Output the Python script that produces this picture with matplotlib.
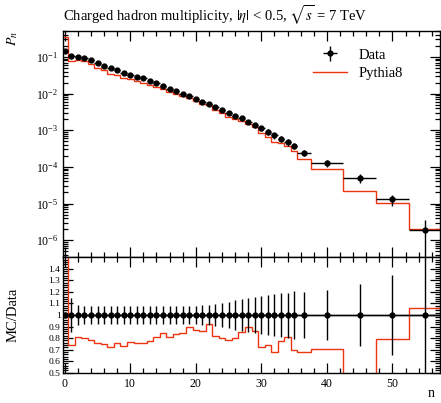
import matplotlib
matplotlib.use('Agg')
import matplotlib.pyplot as plt
from matplotlib.ticker import MultipleLocator, LogLocator, NullFormatter
import numpy as np

plt.rcParams['font.family'] = ['Liberation Serif', 'DejaVu Serif']
plt.rcParams['mathtext.fontset'] = 'stix'

# data points: multiplicity n, P_n, relative uncertainty, half bin width
n_data = [0, 1, 2, 3, 4, 5, 6, 7, 8, 9, 10, 11, 12, 13, 14, 15, 16, 17, 18, 19,
          20, 21, 22, 23, 24, 25, 26, 27, 28, 29, 30, 31, 32, 33, 34, 35,
          36.5, 40, 45, 50, 55]
pn_data = [0.142, 0.103, 0.101, 0.095, 0.080, 0.067, 0.058, 0.049, 0.043, 0.037,
           0.033, 0.029, 0.026, 0.022, 0.019, 0.0163, 0.0135, 0.0117, 0.0099, 0.0085,
           0.0072, 0.0060, 0.0052, 0.0043, 0.0036, 0.0030, 0.0025, 0.0021, 0.00168, 0.00140,
           0.00115, 0.00090, 0.00072, 0.00058, 0.00047, 0.00038,
           0.00024, 0.000125, 5.0e-5, 1.3e-5, 1.85e-6]
rel_err = [0.03, 0.15, 0.09, 0.075, 0.075, 0.075, 0.075, 0.075, 0.075, 0.075,
           0.075, 0.075, 0.075, 0.075, 0.075, 0.075, 0.075, 0.075, 0.075, 0.075,
           0.075, 0.086, 0.086, 0.095, 0.106, 0.115, 0.13, 0.135, 0.144, 0.158,
           0.164, 0.172, 0.178, 0.187, 0.195, 0.205,
           0.2, 0.22, 0.27, 0.35, 0.87]
half_width = [0.5] * 36 + [1.0, 2.5, 2.5, 2.5, 2.5]

# Pythia8 histogram
edges = [-0.5, 0.5, 1.5, 2.5, 3.5, 4.5, 5.5, 6.5, 7.5, 8.5, 9.5, 10.5, 11.5, 12.5,
         13.5, 14.5, 15.5, 16.5, 17.5, 18.5, 19.5, 20.5, 21.5, 22.5, 23.5, 24.5,
         25.5, 26.5, 27.5, 28.5, 29.5, 30.5, 31.5, 32.5, 33.5, 34.5, 35.5,
         37.5, 42.5, 47.5, 52.5, 57.5]
pn_mc = [0.34, 0.0763, 0.0821, 0.076, 0.0628, 0.0507, 0.0433, 0.0352, 0.0327, 0.0271,
         0.0252, 0.0219, 0.0198, 0.0171, 0.01535, 0.01372, 0.01098, 0.00975, 0.00834, 0.00765,
         0.00628, 0.00515, 0.00479, 0.00351, 0.00288, 0.002355, 0.0020, 0.001785, 0.001512, 0.001211,
         0.000831, 0.000667, 0.000492, 0.000449, 0.000382, 0.000266,
         0.000164, 8.8e-5, 2.2e-5, 1.03e-5, 1.96e-6]

ratio_ticks = [0.5, 0.6, 0.7, 0.8, 0.9, 1.0, 1.1, 1.2, 1.3, 1.4]
ratio_labels = ['0.5', '0.6', '0.7', '0.8', '0.9', '1', '1.1', '1.2', '1.3', '1.4']

red = '#EE3311'

x = np.array(n_data)
y = np.array(pn_data)
err = np.array(rel_err)
xw = np.array(half_width)
mc = np.array(pn_mc)

fig = plt.figure(figsize=(4.41, 4.03), dpi=100)
ax1 = fig.add_axes([0.1435, 0.3615, 0.855, 0.5623])
ax2 = fig.add_axes([0.1435, 0.0752, 0.855, 0.2863], sharex=ax1)

h_mc = ax1.stairs(mc, edges, color=red, lw=1.0, label='Pythia8', zorder=2)
h_data = ax1.errorbar(x, y, yerr=err * y, xerr=xw, fmt='o', color='black', ms=3.5,
                      elinewidth=1.0, capsize=0, label='Data', zorder=3)
ax1.set_yscale('log')
ax1.set_ylim(3.4e-7, 0.52)
ax1.set_xlim(-0.22, 57.3)
ax1.set_ylabel('$P_n$', fontsize=10, loc='top')
ax1.set_title(r'Charged hadron multiplicity, $|\eta|$ < 0.5, $\sqrt{s}$ = 7 TeV',
              loc='left', fontsize=10.5, pad=7)
ax1.legend([h_data, h_mc], ['Data', 'Pythia8'], loc='upper right', frameon=False,
           fontsize=10.5, bbox_to_anchor=(0.935, 0.98), handlelength=2.3,
           labelspacing=0.35)

ratio = mc / y
ax2.axhline(1.0, color='black', lw=1.0)
ax2.stairs(ratio, edges, color=red, lw=1.0, zorder=2)
ax2.errorbar(x, np.ones_like(x), yerr=err, xerr=xw, fmt='o', color='black', ms=3.5,
             elinewidth=1.0, capsize=0, zorder=3)
ax2.set_ylim(0.5, 1.5)
ax2.set_ylabel('MC/Data', fontsize=10.5)
ax2.yaxis.set_label_coords(-0.115, 0.5)
ax1.yaxis.set_label_coords(-0.115, 1.0)
ax2.set_xlabel('n', fontsize=10)
ax2.xaxis.set_label_coords(0.975, -0.12)

ax1.yaxis.set_major_locator(LogLocator(base=10, numticks=20))
ax1.yaxis.set_minor_locator(LogLocator(base=10, subs=np.arange(2, 10), numticks=20))
ax1.yaxis.set_minor_formatter(NullFormatter())
ax2.set_yticks(ratio_ticks)
ax2.set_yticklabels(ratio_labels)
ax2.yaxis.set_minor_locator(MultipleLocator(0.02))
for ax in (ax1, ax2):
    ax.xaxis.set_major_locator(MultipleLocator(10))
    ax.xaxis.set_minor_locator(MultipleLocator(2))
    ax.tick_params(which='both', direction='in', top=True, right=True, labelsize=8.5, width=0.9)
    ax.tick_params(which='major', length=7)
    ax.tick_params(which='minor', length=3.8)
    for s in ax.spines.values():
        s.set_linewidth(1.0)
ax1.tick_params(labelbottom=False)
ax2.tick_params(axis='y', labelsize=6.8, pad=2)

fig.savefig('out.png', dpi=100)
